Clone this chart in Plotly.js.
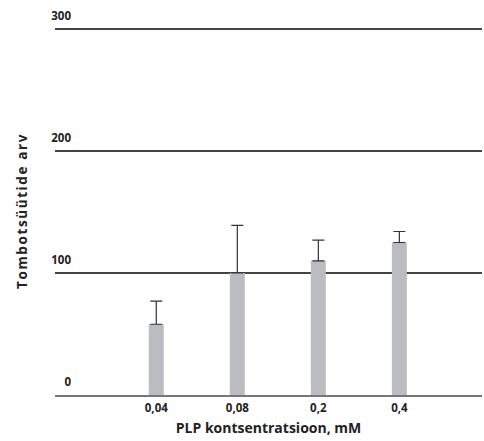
<!DOCTYPE html>
<html>
<head>
<meta charset="utf-8">
<script src="https://cdn.plot.ly/plotly-3.0.1.min.js"></script>
<style>
  html, body { margin: 0; padding: 0; background: #fff; }
  #chart { width: 484px; height: 441px; }
  /* spaced-out lettering for the vertical axis title */
  #chart .ytitle { letter-spacing: 1.6px; }
</style>
</head>
<body>
<div id="chart"></div>
<script>
// PLP concentrations (mM) and mean thrombocyte counts with upper error
const categories = ['0,04', '0,08', '0,2', '0,4'];
const counts = [58, 100, 110, 125];
const errorsUp = [19, 39, 17, 9];
const yTickValues = [0, 100, 200, 300];
const yTickLabels = ['0', '100', '200', '300'];

const positions = categories.map((_, i) => i);

const bars = {
  type: 'bar',
  x: positions,
  y: counts,
  width: 0.185,
  marker: { color: '#bbbcbf', line: { width: 0 } },
  error_y: {
    type: 'data',
    symmetric: false,
    array: errorsUp,
    arrayminus: counts.map(() => 0),
    color: '#333333',
    thickness: 1.2,
    width: 6
  },
  hoverinfo: 'skip'
};

const family = '"Open Sans", "Noto Sans", sans-serif';

const layout = {
  width: 484,
  height: 441,
  margin: { l: 55, r: 2, t: 27, b: 46 },
  paper_bgcolor: '#ffffff',
  plot_bgcolor: '#ffffff',
  showlegend: false,
  font: { family: family, color: '#222222' },
  xaxis: {
    type: 'linear',
    range: [-1.25, 4.02],
    tickvals: positions,
    ticktext: categories,
    tickfont: { family: family, size: 11.5, color: '#222', weight: 'bold' },
    showgrid: false,
    zeroline: false,
    showline: true,
    linecolor: '#777777',
    linewidth: 1.5,
    ticks: '',
    ticklabelstandoff: 2,
    title: {
      text: 'PLP kontsentratsioon, mM',
      font: { family: family, size: 14, color: '#222', weight: 'bold' },
      standoff: 9
    }
  },
  yaxis: {
    range: [0, 301.6],
    tickvals: yTickValues,
    ticktext: yTickLabels,
    tickfont: { family: family, size: 11.5, color: '#222', weight: 'bold' },
    ticklabelposition: 'outside top',
    ticklabelstandoff: -17,
    ticklabelshift: -5,
    showgrid: true,
    gridcolor: '#444444',
    gridwidth: 1.2,
    zeroline: false,
    showline: false,
    ticks: '',
    title: {
      text: 'Tombotsüütide arv',
      font: { family: family, size: 13.5, color: '#222', weight: 'bold' },
      standoff: 20
    }
  }
};

Plotly.newPlot('chart', [bars], layout, { displayModeBar: false, staticPlot: true });
</script>
</body>
</html>
